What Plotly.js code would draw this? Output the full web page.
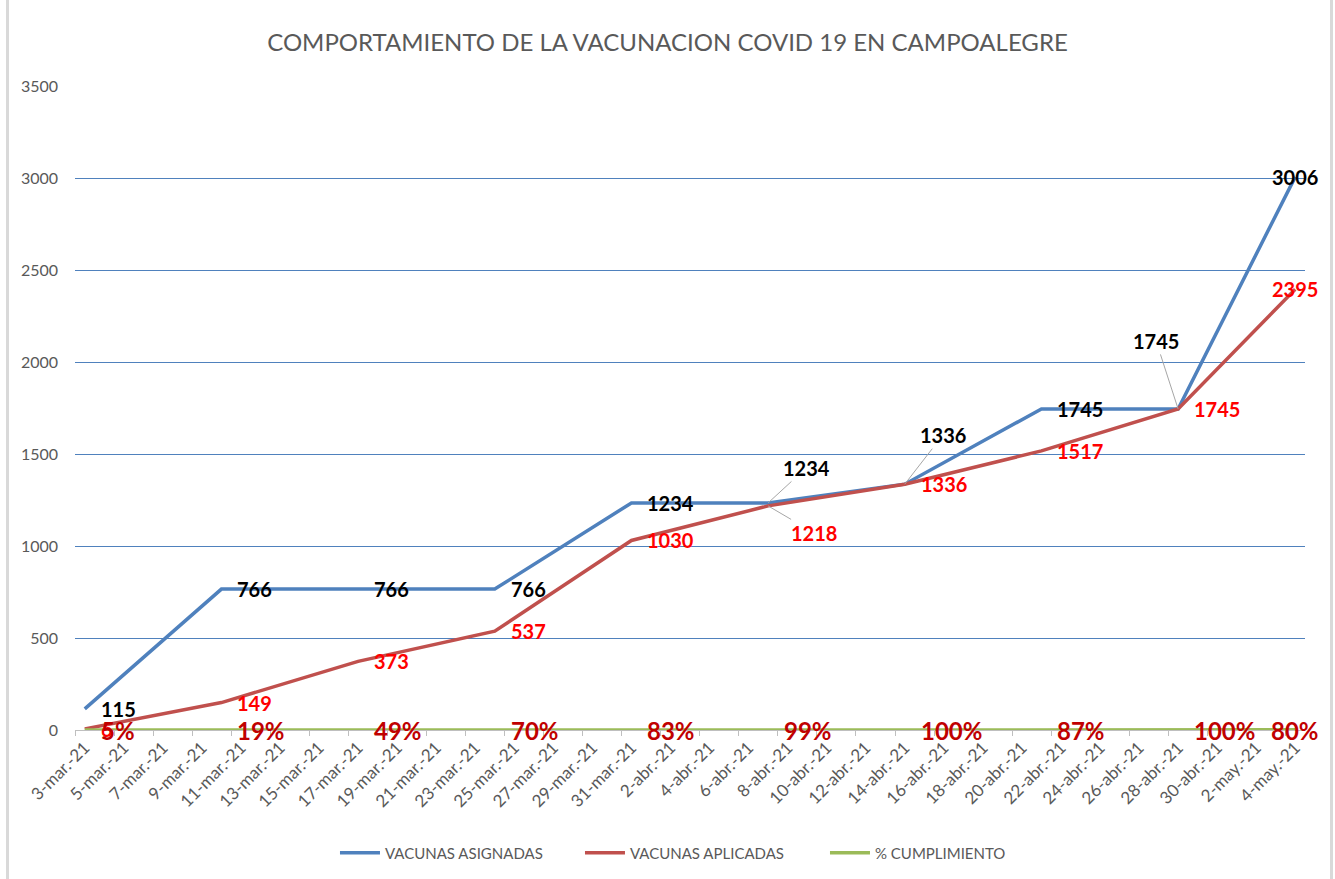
<!DOCTYPE html>
<html>
<head>
<meta charset="utf-8">
<script src="https://cdn.plot.ly/plotly-3.0.1.min.js"></script>
<style>
  html, body { margin: 0; padding: 0; background: #fff; }
  #chart { width: 1335px; height: 879px; position: relative; }
  .edge { position: absolute; top: 0; width: 3px; height: 879px; background: #D9D9D9; z-index: 5; }
</style>
</head>
<body>
<div id="chart"></div>
<div class="edge" style="left:6px"></div>
<div class="edge" style="left:1330px"></div>
<script>
// ---- data ----
const dates = ['2021-03-03','2021-03-10','2021-03-17','2021-03-24','2021-03-31','2021-04-07','2021-04-14','2021-04-21','2021-04-28','2021-05-04'];
const asignadas = [115, 766, 766, 766, 1234, 1234, 1336, 1745, 1745, 3006];
const aplicadas = [6, 149, 373, 537, 1030, 1218, 1336, 1517, 1745, 2395];
const cumplimiento = [0.05, 0.19, 0.49, 0.70, 0.83, 0.99, 1.00, 0.87, 1.00, 0.80];
const seriesNames = ['VACUNAS ASIGNADAS', 'VACUNAS APLICADAS', '% CUMPLIMIENTO'];
const tickLabels = ['3-mar.-21','5-mar.-21','7-mar.-21','9-mar.-21','11-mar.-21','13-mar.-21','15-mar.-21','17-mar.-21','19-mar.-21','21-mar.-21','23-mar.-21','25-mar.-21','27-mar.-21','29-mar.-21','31-mar.-21','2-abr.-21','4-abr.-21','6-abr.-21','8-abr.-21','10-abr.-21','12-abr.-21','14-abr.-21','16-abr.-21','18-abr.-21','20-abr.-21','22-abr.-21','24-abr.-21','26-abr.-21','28-abr.-21','30-abr.-21','2-may.-21','4-may.-21'];
const firstTick = '2021-03-03';
const tickStepDays = 2;

// ---- label placement (style) ----
// 'r' = right of point, 'c' = centred on point, or [ax, ay] leader line offsets
const blueLabelPos = ['r','r','r','r','r',[38,-35],[38,-49],'r',[-22,-68],'c'];
const redLabelPos  = ['r','r','r','r','r',[46,27],'r','r','r','c'];
const pctLabelPos  = ['r','r','r','r','r','r','r','r','r','c'];

const colors = { blue: '#4F81BD', red: '#C0504D', green: '#9BBB59' };
const FONT = 'Lato, "Open Sans", sans-serif';

// tick values
const tickVals = tickLabels.map((_, i) => {
  const d = new Date(firstTick + 'T00:00:00Z');
  d.setUTCDate(d.getUTCDate() + i * tickStepDays);
  return d.toISOString().slice(0, 10);
});

function makeLabels(values, texts, pos, font) {
  return values.map((v, i) => {
    const p = pos[i];
    const a = { x: dates[i], y: v, xref: 'x', yref: 'y', text: texts[i], font: font };
    if (Array.isArray(p)) {
      Object.assign(a, { showarrow: true, ax: p[0], ay: p[1], arrowhead: 0, arrowwidth: 1,
        arrowcolor: '#A6A6A6', standoff: 0, startstandoff: 0 });
    } else if (p === 'c') {
      Object.assign(a, { showarrow: false, xanchor: 'center', yanchor: 'middle' });
    } else {
      Object.assign(a, { showarrow: false, xanchor: 'left', yanchor: 'middle', xshift: 14 });
    }
    return a;
  });
}

const annotations = [].concat(
  makeLabels(asignadas, asignadas.map(String), blueLabelPos, { family: FONT, size: 20, color: '#000000', weight: 'bold' }),
  makeLabels(aplicadas, aplicadas.map(String), redLabelPos, { family: FONT, size: 20, color: '#FF0000', weight: 'bold' }),
  makeLabels(cumplimiento.map(() => 0), cumplimiento.map(v => Math.round(v * 100) + '%'), pctLabelPos,
    { family: FONT, size: 24, color: '#C00000', weight: 'bold' })
);

const traces = [
  { x: dates, y: asignadas, name: seriesNames[0], type: 'scatter', mode: 'lines',
    line: { color: colors.blue, width: 3.5 } },
  { x: dates, y: aplicadas, name: seriesNames[1], type: 'scatter', mode: 'lines',
    line: { color: colors.red, width: 3.5 } },
  { x: dates, y: cumplimiento, name: seriesNames[2], type: 'scatter', mode: 'lines',
    line: { color: colors.green, width: 3.5 } }
];

const layout = {
  width: 1335, height: 879,
  margin: { l: 75, r: 30, t: 86, b: 149 },
  paper_bgcolor: '#ffffff', plot_bgcolor: '#ffffff',
  font: { family: FONT, color: '#595959' },
  title: { text: 'COMPORTAMIENTO DE LA VACUNACION COVID 19 EN CAMPOALEGRE',
    font: { family: FONT, size: 24, color: '#595959' }, x: 0.5, xanchor: 'center', y: 0.952, yanchor: 'middle' },
  showlegend: true,
  legend: { orientation: 'h', x: 0.5262, xanchor: 'center', xref: 'container',
    y: 0.0296, yanchor: 'middle', yref: 'container',
    font: { family: FONT, size: 15, color: '#595959' }, itemwidth: 40,
    entrywidth: 190, entrywidthmode: 'pixels' },
  xaxis: {
    type: 'date', automargin: false,
    range: ['2021-03-02 12:00', '2021-05-04 12:00'],
    tickmode: 'array', tickvals: tickVals, ticktext: tickLabels, tickangle: -45,
    tickfont: { family: FONT, size: 17, color: '#595959' },
    ticks: '', showgrid: false, zeroline: false,
    showline: true, linecolor: '#BFBFBF', linewidth: 1,
    minor: { ticks: 'outside', ticklen: 5, tickcolor: '#BFBFBF', tick0: '2021-03-02 12:00', dtick: tickStepDays * 86400000, showgrid: false }
  },
  yaxis: {
    range: [0, 3500], tickmode: 'linear', tick0: 0, dtick: 500, automargin: false,
    tickfont: { family: FONT, size: 16, color: '#595959' },
    showgrid: true, gridcolor: '#4F81BD', gridwidth: 1,
    zeroline: false, showline: false, ticks: '', ticklabelstandoff: 16
  },
  annotations: annotations
};

Plotly.newPlot('chart', traces, layout, { displayModeBar: false, staticPlot: true });
</script>
</body>
</html>
